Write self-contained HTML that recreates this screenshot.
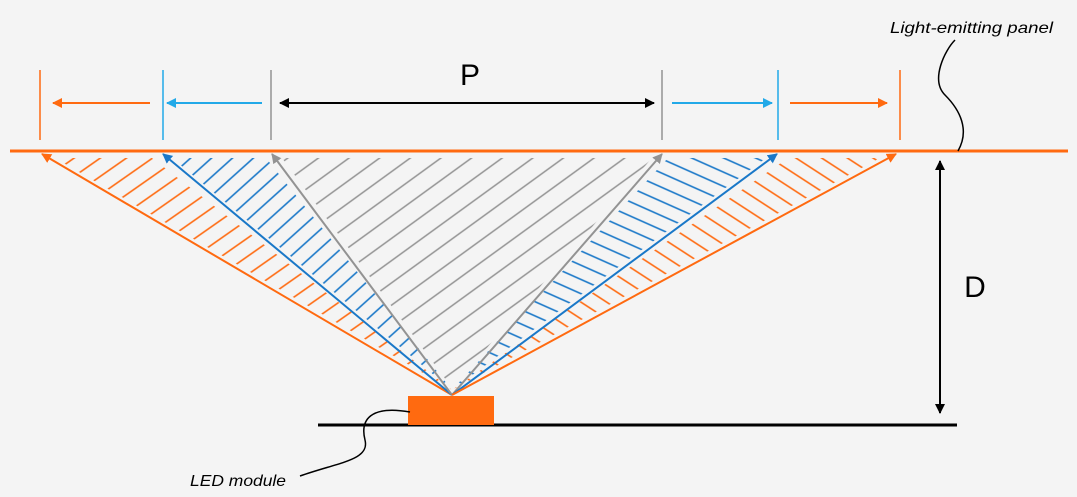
<!DOCTYPE html>
<html><head><style>
html,body{margin:0;padding:0;background:#f4f4f4;}
svg{display:block;}
</style></head><body>
<svg width="1077" height="497" viewBox="0 0 1077 497" xmlns="http://www.w3.org/2000/svg">
<defs>
<pattern id="hoL" width="15" height="15" patternUnits="userSpaceOnUse" patternTransform="rotate(-35)"><line x1="0" y1="7" x2="15" y2="7" stroke="#ff6a10" stroke-width="1.6"/></pattern>
<pattern id="hbL" width="14" height="14" patternUnits="userSpaceOnUse" patternTransform="rotate(-42)"><line x1="0" y1="7" x2="14" y2="7" stroke="#1a78c8" stroke-width="1.6"/></pattern>
<pattern id="hg" width="18" height="18" patternUnits="userSpaceOnUse" patternTransform="rotate(-36)"><line x1="0" y1="9" x2="18" y2="9" stroke="#939393" stroke-width="1.6"/></pattern>
<pattern id="hbR" width="13" height="13" patternUnits="userSpaceOnUse" patternTransform="rotate(24)"><line x1="0" y1="6" x2="13" y2="6" stroke="#1a78c8" stroke-width="1.6"/></pattern>
<pattern id="hoR" width="14" height="14" patternUnits="userSpaceOnUse" patternTransform="rotate(33)"><line x1="0" y1="7" x2="14" y2="7" stroke="#ff6a10" stroke-width="1.6"/></pattern>
<marker id="ao" markerWidth="10" markerHeight="10" refX="9" refY="5" orient="auto" markerUnits="userSpaceOnUse"><path d="M0,0 L10,5 L0,10Z" fill="#ff6a10"/></marker>
<marker id="ab" markerWidth="10" markerHeight="10" refX="9" refY="5" orient="auto" markerUnits="userSpaceOnUse"><path d="M0,0 L10,5 L0,10Z" fill="#1a78c8"/></marker>
<marker id="ac" markerWidth="10" markerHeight="10" refX="9" refY="5" orient="auto" markerUnits="userSpaceOnUse"><path d="M0,0 L10,5 L0,10Z" fill="#22a9e8"/></marker>
<marker id="ag" markerWidth="10" markerHeight="10" refX="9" refY="5" orient="auto" markerUnits="userSpaceOnUse"><path d="M0,0 L10,5 L0,10Z" fill="#939393"/></marker>
<marker id="ak" markerWidth="10" markerHeight="10" refX="9" refY="5" orient="auto" markerUnits="userSpaceOnUse"><path d="M0,0 L10,5 L0,10Z" fill="#000"/></marker>
</defs>
<polygon points="452,390 55,158 152,158" fill="url(#hoL)"/>
<polygon points="452,390 172,158 266,158" fill="url(#hbL)"/>
<polygon points="452,388 282,158 652,158" fill="url(#hg)"/>
<polygon points="452,390 668,158 766,158" fill="url(#hbR)"/>
<polygon points="452,390 788,158 880,158" fill="url(#hoR)"/>
<line x1="452" y1="395" x2="42" y2="154" stroke="#ff6a10" stroke-width="2" marker-end="url(#ao)"/>
<line x1="452" y1="395" x2="163" y2="154" stroke="#1a78c8" stroke-width="2" marker-end="url(#ab)"/>
<line x1="452" y1="395" x2="272" y2="154" stroke="#939393" stroke-width="2" marker-end="url(#ag)"/>
<line x1="452" y1="395" x2="662" y2="154" stroke="#939393" stroke-width="2" marker-end="url(#ag)"/>
<line x1="452" y1="395" x2="777" y2="154" stroke="#1a78c8" stroke-width="2" marker-end="url(#ab)"/>
<line x1="452" y1="395" x2="896" y2="154" stroke="#ff6a10" stroke-width="2" marker-end="url(#ao)"/>
<line x1="10" y1="151" x2="1068" y2="151" stroke="#ff6a10" stroke-width="3"/>
<line x1="40" y1="70" x2="40" y2="140" stroke="#ff6a10" stroke-width="1.5"/>
<line x1="163" y1="70" x2="163" y2="140" stroke="#22a9e8" stroke-width="1.5"/>
<line x1="271" y1="70" x2="271" y2="140" stroke="#939393" stroke-width="1.5"/>
<line x1="662" y1="70" x2="662" y2="140" stroke="#939393" stroke-width="1.5"/>
<line x1="778" y1="70" x2="778" y2="140" stroke="#22a9e8" stroke-width="1.5"/>
<line x1="900" y1="70" x2="900" y2="140" stroke="#ff6a10" stroke-width="1.5"/>
<line x1="150" y1="103" x2="53" y2="103" stroke="#ff6a10" stroke-width="2" marker-end="url(#ao)"/>
<line x1="262" y1="103" x2="167" y2="103" stroke="#22a9e8" stroke-width="2" marker-end="url(#ac)"/>
<line x1="466" y1="103" x2="280" y2="103" stroke="#000" stroke-width="2" marker-end="url(#ak)"/>
<line x1="466" y1="103" x2="654" y2="103" stroke="#000" stroke-width="2" marker-end="url(#ak)"/>
<line x1="672" y1="103" x2="772" y2="103" stroke="#22a9e8" stroke-width="2" marker-end="url(#ac)"/>
<line x1="790" y1="103" x2="887" y2="103" stroke="#ff6a10" stroke-width="2" marker-end="url(#ao)"/>
<text x="470" y="85" font-family="Liberation Sans, sans-serif" font-size="30" text-anchor="middle">P</text>
<line x1="940" y1="260" x2="940" y2="161" stroke="#000" stroke-width="2" marker-end="url(#ak)"/>
<line x1="940" y1="260" x2="940" y2="413" stroke="#000" stroke-width="2" marker-end="url(#ak)"/>
<text x="975" y="297" font-family="Liberation Sans, sans-serif" font-size="30" text-anchor="middle">D</text>
<line x1="318" y1="425" x2="957" y2="425" stroke="#000" stroke-width="3"/>
<rect x="408" y="396" width="86" height="29" fill="#ff6a10"/>
<path d="M410,412 C370,405 360,420 365,440 C370,460 340,462 300,476" fill="none" stroke="#000" stroke-width="1.5"/>
<text x="190" y="486" font-family="Liberation Sans, sans-serif" font-size="16" font-style="italic" textLength="96" lengthAdjust="spacingAndGlyphs">LED module</text>
<path d="M958,151 C970,130 960,110 945,95 C930,80 945,50 955,40" fill="none" stroke="#000" stroke-width="1.5"/>
<text x="890" y="33" font-family="Liberation Sans, sans-serif" font-size="16" font-style="italic" textLength="163" lengthAdjust="spacingAndGlyphs">Light-emitting panel</text>
</svg>
</body></html>
